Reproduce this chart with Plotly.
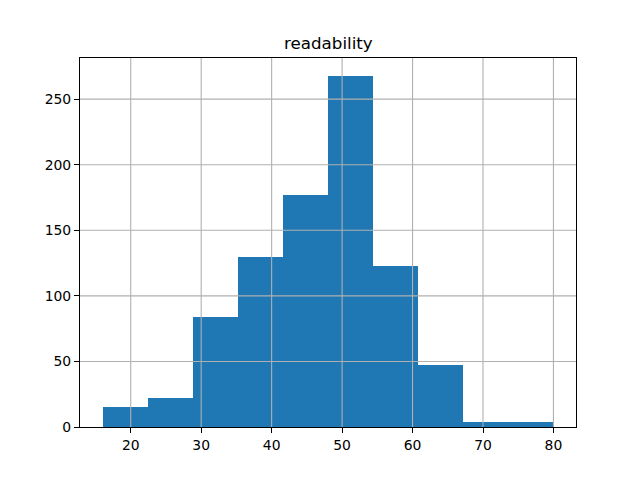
import plotly.graph_objects as go

bin_edges = [16.0, 22.4, 28.8, 35.2, 41.6, 48.0, 54.4, 60.8, 67.2, 73.6, 80.0]
counts = [15, 22, 84, 130, 177, 268, 123, 47, 4, 4]
x_ticks = [20, 30, 40, 50, 60, 70, 80]
y_ticks = [0, 50, 100, 150, 200, 250]
title_text = "readability"

centers = [(a + b) / 2 for a, b in zip(bin_edges[:-1], bin_edges[1:])]
widths = [b - a for a, b in zip(bin_edges[:-1], bin_edges[1:])]

fig = go.Figure(go.Bar(x=centers, y=counts, width=widths,
                       marker=dict(color="#1f77b4", line=dict(width=0))))

span = bin_edges[-1] - bin_edges[0]
xr = [bin_edges[0] - 0.05 * span, bin_edges[-1] + 0.05 * span]
yr = [0, max(counts) * 1.05]

shapes = []
for t in x_ticks:
    shapes.append(dict(type="line", xref="x", yref="paper", x0=t, x1=t, y0=0, y1=1,
                       line=dict(color="#b0b0b0", width=1.1), layer="above"))
for t in y_ticks[1:]:
    shapes.append(dict(type="line", xref="paper", yref="y", x0=0, x1=1, y0=t, y1=t,
                       line=dict(color="#b0b0b0", width=1.1), layer="above"))

axis_common = dict(showline=True, linecolor="black", linewidth=1.1, mirror=True,
                   ticks="outside", ticklen=5, tickwidth=1.1, tickcolor="black",
                   showgrid=False, zeroline=False,
                   tickfont=dict(family="DejaVu Sans", size=13.9, color="black"))

fig.update_layout(
    width=640, height=480,
    margin=dict(l=80, r=64, t=58, b=53, autoexpand=False),
    paper_bgcolor="white", plot_bgcolor="white",
    showlegend=False, bargap=0,
    xaxis=dict(range=xr, tickvals=x_ticks, **axis_common),
    yaxis=dict(range=yr, tickvals=y_ticks, **axis_common),
    shapes=shapes,
    annotations=[dict(text=title_text, xref="paper", yref="paper", x=0.5, y=1,
                      xanchor="center", yanchor="bottom", yshift=3, showarrow=False,
                      font=dict(family="DejaVu Sans", size=16.7, color="black"))],
)

fig.write_html("out.html")
